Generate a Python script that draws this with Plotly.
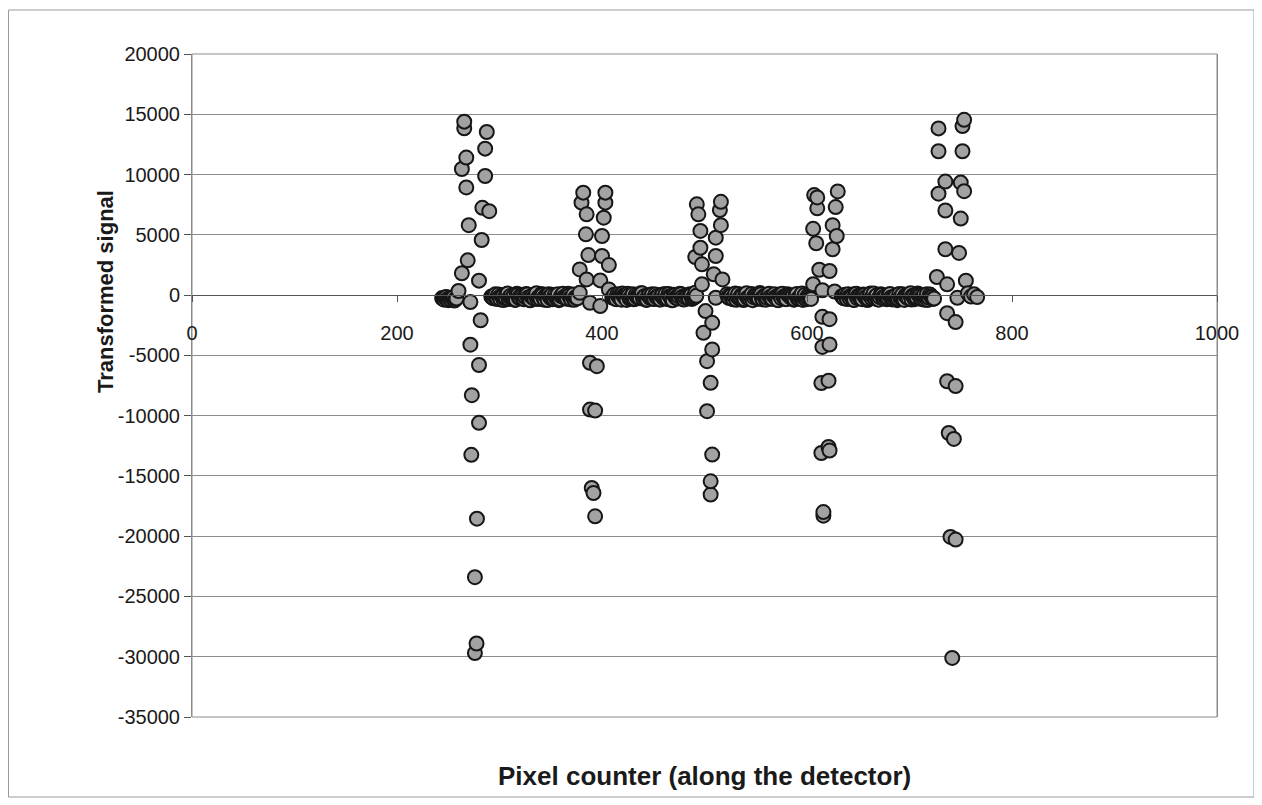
import plotly.graph_objects as go

# ---------------- data ----------------
# cluster points (pixel index, transformed signal)
c1_x = [265.6, 265.6, 287.6, 286.0, 267.6, 263.3, 286.0, 267.6, 283.3, 290.0, 270.0, 282.6, 269.0,
        263.3, 280.0, 260.0, 271.6, 281.6, 271.6, 280.0, 273.0, 280.0, 272.5, 278.0, 276.0, 277.6, 276.0]
c1_y = [14390, 13840, 13530, 12150, 11410, 10460, 9880, 8930, 7240, 6960, 5800, 4570, 2880,
        1810, 1200, 340, -580, -2090, -4110, -5800, -8300, -10600, -13250, -18550, -23400, -28900, -29700]

c2_x = [381.7, 380.0, 385.0, 384.3, 386.7, 378.3, 385.0, 378.3, 388.3, 388.3, 388.3,
        403.3, 403.3, 401.7, 400.0, 400.0, 406.7, 398.3, 406.7, 398.3, 395.0, 393.3, 390.0, 391.7, 393.3]
c2_y = [8500, 7670, 6700, 5040, 3320, 2130, 1300, 190, -640, -5620, -9500,
        8500, 7670, 6420, 4900, 3240, 2490, 1220, 470, -910, -5900, -9580, -16000, -16420, -18350]

c3_x = [492.5, 516.0, 494.0, 515.0, 516.0, 496.0, 511.0, 496.0, 491.0, 511.0, 497.5, 509.0, 517.5,
        497.5, 491.0, 511.0, 501.0, 507.5, 499.0, 507.5, 502.5, 506.0, 502.5, 507.5, 506.0, 506.0]
c3_y = [7530, 7740, 6700, 7050, 5800, 5320, 4760, 3930, 3160, 3240, 2550, 1720, 1300,
        890, 190, -220, -1330, -2300, -3130, -4510, -5480, -7280, -9630, -13230, -15450, -16550]

c4_x = [607, 610, 610, 606, 609, 612, 606, 615, 615, 615, 614, 614, 616, 616,
        630, 628, 625, 629, 625, 622, 627, 622, 622, 621, 621, 622]
c4_y = [8300, 8100, 7200, 5500, 4300, 2100, 900, 400, -1800, -4300, -7300, -13100, -18000, -18300,
        8600, 7300, 5800, 4900, 3800, 2000, 300, -2000, -4100, -7100, -12600, -12900]

c5_x = [728.3, 753.3, 751.7, 728.3, 751.7, 735.0, 750.0, 753.3, 728.3, 735.0, 750.0, 735.0, 748.3,
        726.7, 736.7, 755.0, 746.7, 736.7, 745.0, 736.7, 745.0, 738.3, 743.3, 740.0,
        745.0, 741.7]
c5_y = [13830, 14540, 14020, 11930, 11930, 9420, 9330, 8620, 8410, 7020, 6350, 3800, 3500,
        1500, 890, 1200, -230, -1500, -2240, -7150, -7550, -11440, -11930, -20060,
        -20280, -30100]

# near-zero baseline between the clusters (even pixels)
base_a_x = [244, 246, 248, 250, 252, 254, 256, 258]
base_a_y = [-250, -380, -150, -420, -300, -200, -450, -280]

base_b_x = [292, 294, 296, 298, 300, 302, 304, 306, 308, 310, 312, 314, 316, 318, 320, 322, 324, 326, 328, 330,
            332, 334, 336, 338, 340, 342, 344, 346, 348, 350, 352, 354, 356, 358, 360, 362, 364, 366, 368, 370,
            372, 374, 376]
base_b_y = [-120, -260, 60, -330, -180, -40, -410, -220, 130, -150, -300, -70, -380, 20, -240, -120, -350, 90,
            -200, -430, -60, -280, 150, -170, -320, -20, -390, -110, 70, -250, -340, 10, -160, -420, -90, 110,
            -230, -300, -30, -370, 40, -190, -260]

base_c_x = [410, 412, 414, 416, 418, 420, 422, 424, 426, 428, 430, 432, 434, 436, 438, 440, 442, 444, 446, 448,
            450, 452, 454, 456, 458, 460, 462, 464, 466, 468, 470, 472, 474, 476, 478, 480, 482, 484, 486, 488,
            490, 492]
base_c_y = [-210, 30, -340, -100, -270, 140, -160, -400, -40, -230, 80, -310, -120, -200, 160, -290, -70, -380,
            0, -180, -310, 50, -140, -360, -50, -250, 100, -330, -90, -420, 30, -200, -280, 120, -150, -370,
            -10, -240, 70, -320, -130, -60]

base_d_x = [522, 524, 526, 528, 530, 532, 534, 536, 538, 540, 542, 544, 546, 548, 550, 552, 554, 556, 558, 560,
            562, 564, 566, 568, 570, 572, 574, 576, 578, 580, 582, 584, 586, 588, 590, 592, 594, 596, 598, 600,
            602, 604]
base_d_y = [80, -240, -60, -350, 130, -130, -290, -10, -410, 40, -220, -330, 100, -170, -30, -300, 170, -260,
            -80, -380, 20, -150, -310, 60, -200, -420, -70, 120, -240, -340, 0, -180, -100, -360, 90, -270,
            -40, -400, 30, -210, -130, -320]

base_e_x = [634, 636, 638, 640, 642, 644, 646, 648, 650, 652, 654, 656, 658, 660, 662, 664, 666, 668, 670, 672,
            674, 676, 678, 680, 682, 684, 686, 688, 690, 692, 694, 696, 698, 700, 702, 704, 706, 708, 710, 712,
            714, 716, 718, 720, 722, 724]
base_e_y = [-90, -260, -170, 60, -300, -100, -410, 110, -50, -250, -340, 10, -150, -320, 140, -90, -260, -20,
            -380, 80, -210, -120, -350, 30, -190, -290, -60, -420, 100, -140, -310, -30, -230, 70, -370, -110,
            -260, 130, -80, -330, -10, -200, -400, 40, -160, -280]

# near-zero baseline (odd pixels)
base_a2_x = [245, 247, 249, 251, 253, 255, 257]
base_a2_y = [-320, -200, -360, -260, -400, -180, -330]

base_b2_x = [293, 295, 297, 299, 301, 303, 305, 307, 309, 311, 313, 315, 317, 319, 321, 323, 325, 327, 329, 331,
             333, 335, 337, 339, 341, 343, 345, 347, 349, 351, 353, 355, 357, 359, 361, 363, 365, 367, 369, 371,
             373, 375]
base_b2_y = [-200, -90, -280, 40, -360, -140, -250, 80, -320, -50, -190, -400, 110, -230, -10, -290, -160, 50,
             -370, -100, -240, 0, -330, -180, 90, -270, -60, -410, -130, 30, -300, -210, 70, -350, -20, -150,
             -280, 120, -240, -80, -390, -170]

base_c2_x = [411, 413, 415, 417, 419, 421, 423, 425, 427, 429, 431, 433, 435, 437, 439, 441, 443, 445, 447, 449,
             451, 453, 455, 457, 459, 461, 463, 465, 467, 469, 471, 473, 475, 477, 479, 481, 483, 485, 487, 489,
             491]
base_c2_y = [-120, -310, 60, -220, -380, -40, -170, 110, -290, -90, -350, 20, -200, -260, 150, -130, -400, -30,
             -240, 70, -330, -160, -80, -370, 40, -210, -300, 100, -140, -420, -20, -250, -110, 80, -340, -190,
             -60, -280, 10, -230, -150]

base_d2_x = [523, 525, 527, 529, 531, 533, 535, 537, 539, 541, 543, 545, 547, 549, 551, 553, 555, 557, 559, 561,
             563, 565, 567, 569, 571, 573, 575, 577, 579, 581, 583, 585, 587, 589, 591, 593, 595, 597, 599, 601,
             603]
base_d2_y = [-160, 20, -300, -110, -390, 90, -200, -50, -340, 150, -240, -130, -420, 0, -180, -280, 60, -360,
             -90, -220, 120, -310, -20, -170, -400, 40, -260, -140, -330, 80, -60, -230, -380, 10, -290, -120,
             140, -200, -350, -40, -250]

base_e2_x = [635, 637, 639, 641, 643, 645, 647, 649, 651, 653, 655, 657, 659, 661, 663, 665, 667, 669, 671, 673,
             675, 677, 679, 681, 683, 685, 687, 689, 691, 693, 695, 697, 699, 701, 703, 705, 707, 709, 711, 713,
             715, 717, 719, 721, 723]
base_e2_y = [-210, 30, -330, -150, -60, -380, 100, -240, -120, -300, 50, -190, -410, -30, -270, 130, -100, -350,
             -170, 0, -290, -80, -230, 90, -360, -140, -20, -310, -200, 60, -400, -110, -260, 160, -50, -340,
             -180, 20, -280, -130, -390, 70, -220, -90, -320]

base_f_x = [757, 760, 763, 766]
base_f_y = [150, -120, 60, -160]

y_ticks = [20000, 15000, 10000, 5000, 0, -5000, -10000, -15000, -20000, -25000, -30000, -35000]
y_tick_labels = ["20000", "15000", "10000", "5000", "0", "-5000", "-10000", "-15000", "-20000",
                 "-25000", "-30000", "-35000"]
x_ticks = [0, 200, 400, 600, 800, 1000]
x_tick_labels = ["0", "200", "400", "600", "800", "1000"]

x_title = "Pixel counter (along the detector)"
y_title = "Transformed signal"

# ---------------- figure ----------------
all_x = (base_a_x + base_b_x + base_c_x + base_d_x + base_e_x + base_f_x
         + base_a2_x + base_b2_x + base_c2_x + base_d2_x + base_e2_x
         + c1_x + c2_x + c3_x + c4_x + c5_x)
all_y = (base_a_y + base_b_y + base_c_y + base_d_y + base_e_y + base_f_y
         + base_a2_y + base_b2_y + base_c2_y + base_d2_y + base_e2_y
         + c1_y + c2_y + c3_y + c4_y + c5_y)
pts = sorted(zip(all_x, all_y))
xs = [p[0] for p in pts]
ys = [p[1] for p in pts]

FONT = "Liberation Sans, Arial, sans-serif"
# the page body has an 8px margin, so the figure is 8px smaller than the window
W, H = 1254, 797
L, R, T, B = 184, 45, 46, 88
PW, PH = W - L - R, H - T - B


def px_x(x):  # figure pixel -> paper x
    return (x - L) / PW


def px_y(y):  # figure pixel -> paper y
    return (T + PH - y) / PH


fig = go.Figure()
fig.add_trace(go.Scatter(
    x=xs, y=ys, mode="markers",
    marker=dict(size=14, color="#a2a2a2", line=dict(color="#161616", width=2)),
    showlegend=False, hoverinfo="x+y"))

ymin, ymax = -35000, 20000
fig.update_layout(
    width=W, height=H,
    margin=dict(l=L, r=R, t=T, b=B),
    paper_bgcolor="white", plot_bgcolor="white",
    font=dict(family=FONT, size=20, color="#1a1a1a"),
    xaxis=dict(range=[0, 1000], tickvals=x_ticks, ticktext=x_tick_labels,
               anchor="free", position=(0 - ymin) / (ymax - ymin),
               showline=True, linecolor="#555555", linewidth=1,
               ticks="outside", ticklen=6, tickcolor="#555555",
               showgrid=False, zeroline=False, ticklabelstandoff=14,
               tickfont=dict(family=FONT, size=20, color="#1a1a1a")),
    yaxis=dict(range=[ymin, ymax], tickvals=y_ticks, ticktext=y_tick_labels,
               showgrid=True, gridcolor="#8c8c8c", gridwidth=1,
               showline=True, linecolor="#8c8c8c", linewidth=1, mirror=True,
               ticks="outside", ticklen=7, tickcolor="#555555",
               zeroline=False, ticklabelstandoff=0,
               tickfont=dict(family=FONT, size=20, color="#1a1a1a")),
    shapes=[
        dict(type="rect", xref="paper", yref="paper", x0=0, x1=1, y0=0, y1=1,
             line=dict(color="#8c8c8c", width=1), layer="below"),
        dict(type="rect", xref="paper", yref="paper",
             x0=px_x(0.5), x1=px_x(1246), y0=px_y(789), y1=px_y(2),
             line=dict(color="#9a9a9a", width=1)),
    ],
    annotations=[
        dict(text="<b>" + x_title + "</b>", xref="paper", yref="paper",
             x=0.5, y=px_y(768), xanchor="center", yanchor="middle",
             showarrow=False, font=dict(family=FONT, size=26, color="#1a1a1a")),
        dict(text="<b>" + y_title + "</b>", xref="paper", yref="paper",
             x=px_x(97), y=px_y(284), xanchor="center", yanchor="middle",
             textangle=-90, showarrow=False, font=dict(family=FONT, size=22, color="#1a1a1a")),
    ],
)

fig.write_html("out.html")
